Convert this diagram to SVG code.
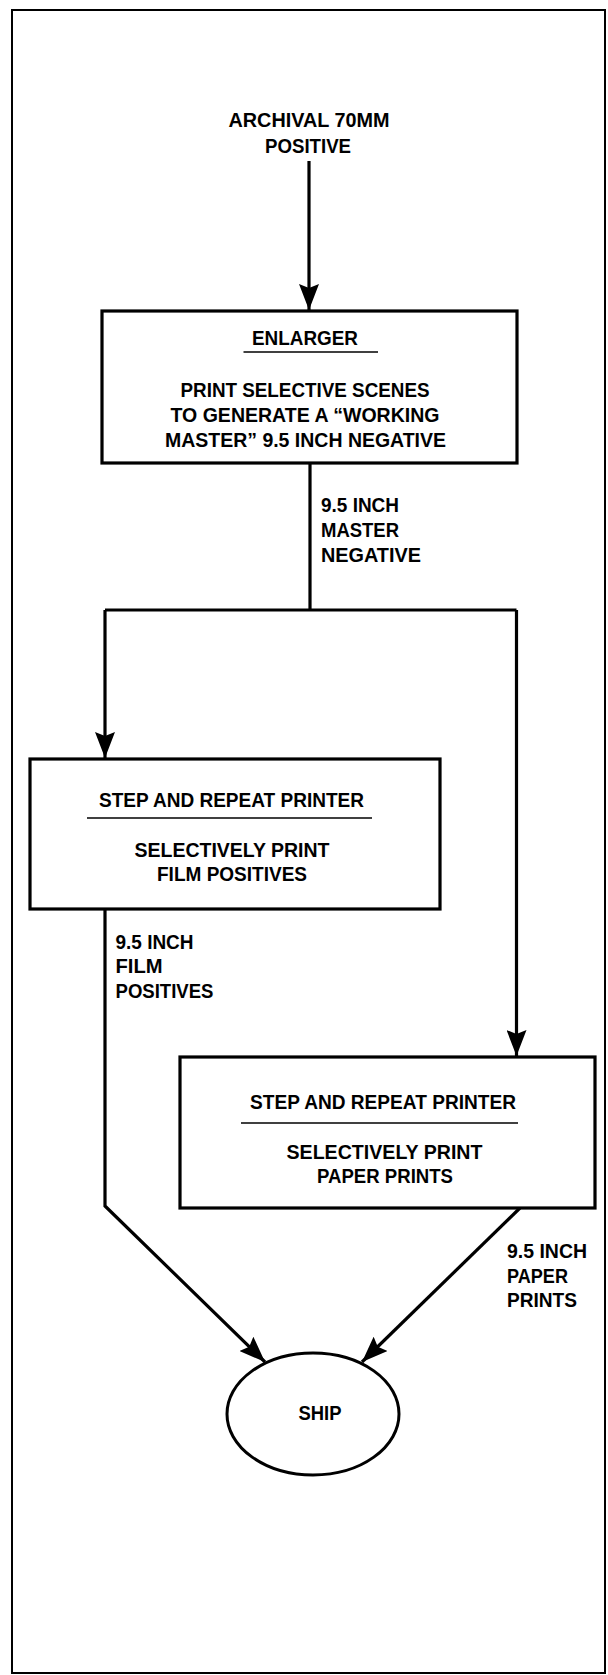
<svg xmlns="http://www.w3.org/2000/svg" width="608" height="1675" viewBox="0 0 608 1675">
<style>
.t{font-family:"Liberation Sans",Arial,sans-serif;font-weight:bold;font-size:21px;fill:#000}
.c{text-anchor:middle}
.box{fill:#fff;stroke:#000;stroke-width:3.2}
.ul{stroke:#000;stroke-width:1.5}
.con{fill:none;stroke:#000;stroke-width:3.2}
</style>
<defs>
<marker id="ah" viewBox="0 0 26 20" refX="26" refY="10" markerWidth="26" markerHeight="20" markerUnits="userSpaceOnUse" orient="auto">
<path d="M0,0 L26,10 L0,20 L4,10 z" fill="#000"/>
</marker>
</defs>
<rect x="0" y="0" width="608" height="1675" fill="#fff"/>
<rect id="frame" x="12" y="10" width="593" height="1663" fill="none" stroke="#000" stroke-width="2"/>

<g id="connectors">
<path class="con" d="M309,161 L309,310" marker-end="url(#ah)"/>
<path class="con" d="M310,463 L310,610"/>
<path class="con" d="M105,610 L516.5,610"/>
<path class="con" d="M105,610 L105,758" marker-end="url(#ah)"/>
<path class="con" d="M516.5,610 L516.5,1056" marker-end="url(#ah)"/>
<path class="con" d="M105,909 L105,1206 L265,1362" marker-end="url(#ah)"/>
<path class="con" d="M520,1208 L362,1362" marker-end="url(#ah)"/>
</g>

<g id="source">
<text class="t c" x="309" y="127" textLength="161" lengthAdjust="spacingAndGlyphs">ARCHIVAL 70MM</text>
<text class="t c" x="308" y="153" textLength="86" lengthAdjust="spacingAndGlyphs">POSITIVE</text>
</g>

<g id="enlarger">
<rect class="box" x="102" y="311" width="415" height="152"/>
<text class="t c" x="305" y="345" textLength="106" lengthAdjust="spacingAndGlyphs">ENLARGER</text>
<line class="ul" x1="243.5" y1="352" x2="378" y2="352"/>
<text class="t c" x="305" y="397" textLength="249" lengthAdjust="spacingAndGlyphs">PRINT SELECTIVE SCENES</text>
<text class="t c" x="305" y="422" textLength="269" lengthAdjust="spacingAndGlyphs">TO GENERATE A “WORKING</text>
<text class="t c" x="305.5" y="447" textLength="281" lengthAdjust="spacingAndGlyphs">MASTER” 9.5 INCH NEGATIVE</text>
</g>

<g id="label-master-negative">
<text class="t" x="321" y="512" textLength="78" lengthAdjust="spacingAndGlyphs">9.5 INCH</text>
<text class="t" x="321" y="537" textLength="78" lengthAdjust="spacingAndGlyphs">MASTER</text>
<text class="t" x="321" y="562" textLength="100" lengthAdjust="spacingAndGlyphs">NEGATIVE</text>
</g>

<g id="printer-film">
<rect class="box" x="30" y="759" width="410" height="150"/>
<text class="t c" x="231.5" y="807" textLength="265" lengthAdjust="spacingAndGlyphs">STEP AND REPEAT PRINTER</text>
<line class="ul" x1="87" y1="818" x2="372" y2="818"/>
<text class="t c" x="232" y="857" textLength="195" lengthAdjust="spacingAndGlyphs">SELECTIVELY PRINT</text>
<text class="t c" x="232" y="881" textLength="150" lengthAdjust="spacingAndGlyphs">FILM POSITIVES</text>
</g>

<g id="label-film-positives">
<text class="t" x="115.5" y="949" textLength="78" lengthAdjust="spacingAndGlyphs">9.5 INCH</text>
<text class="t" x="115.5" y="973" textLength="47" lengthAdjust="spacingAndGlyphs">FILM</text>
<text class="t" x="115.5" y="998" textLength="98" lengthAdjust="spacingAndGlyphs">POSITIVES</text>
</g>

<g id="printer-paper">
<rect class="box" x="180" y="1057" width="415" height="151"/>
<text class="t c" x="383" y="1109" textLength="266" lengthAdjust="spacingAndGlyphs">STEP AND REPEAT PRINTER</text>
<line class="ul" x1="241" y1="1123" x2="518" y2="1123"/>
<text class="t c" x="384.5" y="1159" textLength="196" lengthAdjust="spacingAndGlyphs">SELECTIVELY PRINT</text>
<text class="t c" x="385" y="1183" textLength="136" lengthAdjust="spacingAndGlyphs">PAPER PRINTS</text>
</g>

<g id="label-paper-prints">
<text class="t" x="507" y="1258" textLength="80" lengthAdjust="spacingAndGlyphs">9.5 INCH</text>
<text class="t" x="507" y="1283" textLength="61" lengthAdjust="spacingAndGlyphs">PAPER</text>
<text class="t" x="507" y="1307" textLength="70" lengthAdjust="spacingAndGlyphs">PRINTS</text>
</g>

<g id="ship">
<ellipse cx="313" cy="1414" rx="86" ry="61" fill="#fff" stroke="#000" stroke-width="3"/>
<text class="t c" x="320" y="1420" textLength="43" lengthAdjust="spacingAndGlyphs">SHIP</text>
</g>
</svg>
